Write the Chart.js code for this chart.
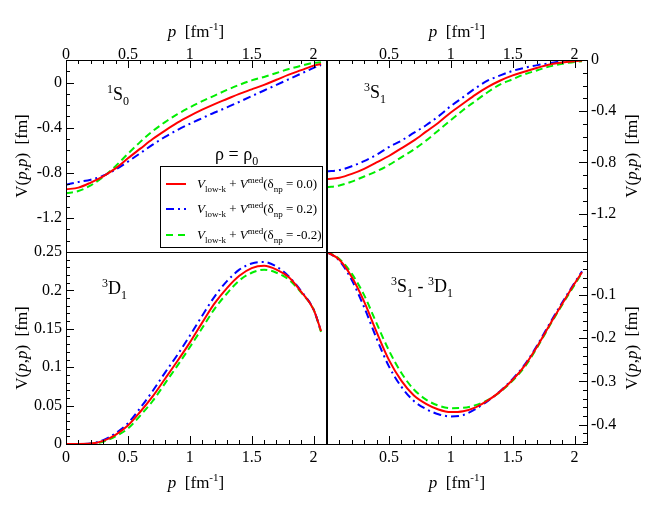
<!DOCTYPE html>
<html>
<head>
<meta charset="utf-8">
<script src="https://cdn.jsdelivr.net/npm/chart.js@4.4.1/dist/chart.umd.min.js"></script>
<style>
  html, body { margin:0; padding:0; background:#fff; }
  #wrap { position:relative; width:654px; height:505px; overflow:hidden; font-family:'Liberation Serif', 'DejaVu Serif', serif; color:#000; }
  canvas.panel { position:absolute; left:0; top:0; pointer-events:none; }
  .lbl { position:absolute; white-space:nowrap; line-height:1; }
  .ttl { font-size:17px; }
  .plab { font-size:18px; }
  .plab sup, .plab sub { font-size:12px; }
  sup, sub { line-height:0; }
  #legend { position:absolute; left:160px; top:166px; width:163px; height:82px; border:1px solid #000; background:#fff; box-sizing:border-box; }
  .lrow { position:absolute; left:0; height:20px; width:160px; }
  .lrow svg { position:absolute; left:5px; top:5px; }
  .lrow .txt { position:absolute; left:36px; top:3px; font-size:13px; line-height:1; white-space:nowrap; }
  .lrow .txt sub, .lrow .txt sup { font-size:9px; }
</style>
</head>
<body>
<div id="wrap">
  <canvas class="panel" id="cTL" width="654" height="505"></canvas>
  <canvas class="panel" id="cTR" width="654" height="505"></canvas>
  <canvas class="panel" id="cBL" width="654" height="505"></canvas>
  <canvas class="panel" id="cBR" width="654" height="505"></canvas>

  <!-- axis titles -->
  <div class="lbl ttl" style="left:196px; top:23px; transform:translateX(-50%);"><i>p</i>&nbsp; [fm<sup style="font-size:11px">-1</sup>]</div>
  <div class="lbl ttl" style="left:457px; top:23px; transform:translateX(-50%);"><i>p</i>&nbsp; [fm<sup style="font-size:11px">-1</sup>]</div>
  <div class="lbl ttl" style="left:196px; top:474px; transform:translateX(-50%);"><i>p</i>&nbsp; [fm<sup style="font-size:11px">-1</sup>]</div>
  <div class="lbl ttl" style="left:457px; top:474px; transform:translateX(-50%);"><i>p</i>&nbsp; [fm<sup style="font-size:11px">-1</sup>]</div>
  <div class="lbl ttl" style="left:21px; top:156px; transform:translate(-50%,-50%) rotate(-90deg);">V(<i>p</i>,<i>p</i>)&nbsp; [fm]</div>
  <div class="lbl ttl" style="left:21px; top:348px; transform:translate(-50%,-50%) rotate(-90deg);">V(<i>p</i>,<i>p</i>)&nbsp; [fm]</div>
  <div class="lbl ttl" style="left:631px; top:156px; transform:translate(-50%,-50%) rotate(-90deg);">V(<i>p</i>,<i>p</i>)&nbsp; [fm]</div>
  <div class="lbl ttl" style="left:631px; top:348px; transform:translate(-50%,-50%) rotate(-90deg);">V(<i>p</i>,<i>p</i>)&nbsp; [fm]</div>

  <!-- panel labels -->
  <div class="lbl plab" style="left:107px; top:85px;"><sup>1</sup>S<sub>0</sub></div>
  <div class="lbl plab" style="left:364px; top:83px;"><sup>3</sup>S<sub>1</sub></div>
  <div class="lbl plab" style="left:102px; top:279px;"><sup>3</sup>D<sub>1</sub></div>
  <div class="lbl plab" style="left:391px; top:277px;"><sup>3</sup>S<sub>1</sub> - <sup>3</sup>D<sub>1</sub></div>
  <div class="lbl" style="left:215px; top:145px; font-size:18px;">ρ = ρ<sub style="font-size:12px">0</sub></div>

  <div id="legend">
    <div class="lrow" style="top:7px;">
      <svg width="22" height="10"><line x1="0" y1="5" x2="20" y2="5" stroke="#ff0000" stroke-width="2"/></svg>
      <div class="txt"><i>V</i><sub>low-k</sub> + <i>V</i><sup>med</sup>(δ<sub>np</sub> = 0.0)</div>
    </div>
    <div class="lrow" style="top:32px;">
      <svg width="22" height="10"><line x1="0" y1="5" x2="20" y2="5" stroke="#0000ff" stroke-width="2" stroke-dasharray="8,4,2,4"/></svg>
      <div class="txt"><i>V</i><sub>low-k</sub> + <i>V</i><sup>med</sup>(δ<sub>np</sub> = 0.2)</div>
    </div>
    <div class="lrow" style="top:58px;">
      <svg width="22" height="10"><line x1="0" y1="5" x2="20" y2="5" stroke="#00ee00" stroke-width="2" stroke-dasharray="7,5"/></svg>
      <div class="txt"><i>V</i><sub>low-k</sub> + <i>V</i><sup>med</sup>(δ<sub>np</sub> = -0.2)</div>
    </div>
  </div>
</div>

<script>
// ---------- data ----------
const pGrid = [0,0.1,0.2,0.3,0.4,0.5,0.6,0.7,0.8,0.9,1.0,1.1,1.2,1.3,1.4,1.5,1.6,1.7,1.8,1.9,2.0,2.06];

// 1S0
const s1S0_d00 = [-0.945,-0.93,-0.885,-0.83,-0.76,-0.67,-0.585,-0.50,-0.425,-0.355,-0.295,-0.24,-0.19,-0.145,-0.10,-0.06,-0.02,0.025,0.07,0.11,0.15,0.165];
const s1S0_d02 = [-0.905,-0.88,-0.86,-0.825,-0.77,-0.70,-0.625,-0.55,-0.48,-0.42,-0.365,-0.315,-0.265,-0.22,-0.17,-0.12,-0.07,-0.02,0.03,0.08,0.13,0.155];
const s1S0_dm02 = [-0.98,-0.96,-0.91,-0.835,-0.74,-0.63,-0.525,-0.43,-0.35,-0.28,-0.22,-0.165,-0.115,-0.065,-0.02,0.02,0.05,0.085,0.12,0.15,0.175,0.18];

// 3S1
const s3S1_d00 = [-0.93,-0.92,-0.89,-0.85,-0.80,-0.75,-0.69,-0.63,-0.56,-0.49,-0.41,-0.34,-0.27,-0.21,-0.16,-0.12,-0.09,-0.06,-0.035,-0.02,-0.01,-0.005];
const s3S1_d02 = [-0.87,-0.86,-0.83,-0.79,-0.74,-0.68,-0.63,-0.57,-0.51,-0.44,-0.36,-0.29,-0.22,-0.16,-0.12,-0.085,-0.06,-0.04,-0.025,-0.01,0,0];
const s3S1_dm02 = [-0.995,-0.98,-0.95,-0.91,-0.87,-0.82,-0.76,-0.70,-0.63,-0.55,-0.47,-0.39,-0.32,-0.25,-0.19,-0.15,-0.11,-0.08,-0.05,-0.03,-0.015,-0.01];

// 3D1
const s3D1_d00 = [0,0,0.0005,0.004,0.012,0.024,0.042,0.062,0.085,0.108,0.132,0.158,0.183,0.203,0.219,0.229,0.232,0.227,0.217,0.198,0.175,0.147];
const s3D1_d02 = [0,0,0.0008,0.005,0.014,0.027,0.047,0.069,0.093,0.116,0.141,0.167,0.192,0.212,0.227,0.235,0.237,0.231,0.218,0.199,0.175,0.147];
const s3D1_dm02 = [0,0,0.0003,0.003,0.010,0.020,0.037,0.056,0.079,0.102,0.126,0.151,0.176,0.196,0.213,0.223,0.227,0.223,0.214,0.197,0.175,0.146];

// 3S1-3D1
const sMix_d00 = [0,-0.018,-0.058,-0.115,-0.185,-0.25,-0.298,-0.332,-0.352,-0.365,-0.371,-0.369,-0.36,-0.344,-0.323,-0.296,-0.262,-0.218,-0.168,-0.12,-0.073,-0.047];
const sMix_d02 = [0,-0.02,-0.065,-0.128,-0.20,-0.265,-0.312,-0.345,-0.364,-0.376,-0.381,-0.378,-0.364,-0.345,-0.322,-0.294,-0.26,-0.215,-0.165,-0.117,-0.071,-0.045];
const sMix_dm02 = [0,-0.016,-0.05,-0.10,-0.165,-0.228,-0.28,-0.318,-0.342,-0.356,-0.362,-0.361,-0.355,-0.343,-0.324,-0.298,-0.265,-0.22,-0.17,-0.122,-0.076,-0.048];

// tick labels
const xTicksLabeled = [0,0.5,1,1.5,2];
const xTicksRightPanels = [0.5,1,1.5,2];
const yTicks1S0 = [-1.2,-0.8,-0.4,0];
const yTicks3S1 = [-1.2,-0.8,-0.4,0];
const yTicks3D1 = [0,0.05,0.1,0.15,0.2,0.25];
const yTicksMix = [-0.4,-0.3,-0.2,-0.1];

// ---------- helpers ----------
const FONT = "'Liberation Serif', 'DejaVu Serif', serif";
function range(a, b, step){ const r=[]; const n=Math.round((b-a)/step); for(let i=0;i<=n;i++) r.push(+(a+i*step).toFixed(6)); return r; }
function pts(ys){ return ys.map((y,i)=>({x:pGrid[i], y})); }
function sets(red, blue, green){
  const base = {pointRadius:0, borderWidth:2, fill:false, cubicInterpolationMode:'monotone'};
  return [
    Object.assign({label:'δnp = 0.0', data:pts(red), borderColor:'#ff0000'}, base),
    Object.assign({label:'δnp = 0.2', data:pts(blue), borderColor:'#0000ff', borderDash:[8,4,2,4]}, base),
    Object.assign({label:'δnp = -0.2', data:pts(green), borderColor:'#00ee00', borderDash:[7,4]}, base)
  ];
}

const frameTicks = {
  id:'frameTicks',
  afterDraw(chart, args, o){
    const ctx = chart.ctx, a = chart.chartArea;
    const xs = chart.scales.x, ys = chart.scales.y;
    ctx.save();
    ctx.strokeStyle = '#000'; ctx.lineWidth = 1;
    ctx.beginPath();
    const ex = o.xEdge === 'top' ? a.top : a.bottom;
    const dirx = o.xEdge === 'top' ? 1 : -1;
    o.xMinor.forEach(v=>{
      const major = o.xMajor.some(m=>Math.abs(m-v)<1e-9);
      const px = Math.round(xs.getPixelForValue(v)) + 0.5;
      if (px < a.left - 1 || px > a.right + 1) return;
      ctx.moveTo(px, ex); ctx.lineTo(px, ex + dirx*(major?8:4));
    });
    const ey = o.yEdge === 'left' ? a.left : a.right;
    const diry = o.yEdge === 'left' ? 1 : -1;
    o.yMinor.forEach(v=>{
      const major = o.yMajor.some(m=>Math.abs(m-v)<1e-9);
      const py = Math.round(ys.getPixelForValue(v)) + 0.5;
      if (py < a.top - 1 || py > a.bottom + 1) return;
      ctx.moveTo(ey, py); ctx.lineTo(ey + diry*(major?8:4), py);
    });
    ctx.stroke();
    ctx.strokeRect(Math.round(a.left)+0.5, Math.round(a.top)+0.5, Math.round(a.right-a.left), Math.round(a.bottom-a.top));
    ctx.restore();
  }
};

function makePanel(id, cfg){
  const tickFont = {family:FONT, size:16};
  new Chart(document.getElementById(id), {
    type:'line',
    data:{ datasets: sets(cfg.red, cfg.blue, cfg.green) },
    plugins:[frameTicks],
    options:{
      responsive:false, animation:false, devicePixelRatio:1,
      layout:{ padding: cfg.padding },
      plugins:{ legend:{display:false}, tooltip:{enabled:false}, frameTicks: cfg.ticks },
      scales:{
        x:{
          type:'linear', position: cfg.xPos, min:0, max:2.1,
          grid:{display:false, drawTicks:false}, border:{display:false},
          ticks:{ font:tickFont, color:'#000', padding: cfg.xPos==='top'?-4:4, maxRotation:0, autoSkip:false,
                  callback:(v)=>String(v) },
          afterBuildTicks:(s)=>{ s.ticks = cfg.xLabels.map(v=>({value:v})); },
          afterFit:(s)=>{ s.height = cfg.xH; }
        },
        y:{
          type:'linear', position: cfg.yPos, min: cfg.yMin, max: cfg.yMax,
          grid:{display:false, drawTicks:false}, border:{display:false},
          ticks:{ font:tickFont, color:'#000', padding:4, autoSkip:false, callback:(v)=>String(v) },
          afterBuildTicks:(s)=>{ s.ticks = cfg.yLabels.map(v=>({value:v})); },
          afterFit:(s)=>{ s.width = cfg.yW; }
        }
      }
    }
  });
}

const xMinor = range(0, 2.1, 0.1);
const xMajor = [0,0.5,1,1.5,2];

makePanel('cTL', {
  red:s1S0_d00, blue:s1S0_d02, green:s1S0_dm02,
  padding:{left:0, top:0, right:328, bottom:253},
  xPos:'top', xH:60, yPos:'left', yW:66, yMin:-1.5, yMax:0.2,
  xLabels:xTicksLabeled, yLabels:yTicks1S0,
  ticks:{xEdge:'top', yEdge:'left', xMinor, xMajor, yMinor:range(-1.5,0.2,0.1), yMajor:[-1.2,-0.8,-0.4,0]}
});
makePanel('cTR', {
  red:s3S1_d00, blue:s3S1_d02, green:s3S1_dm02,
  padding:{left:327, top:0, right:0, bottom:253},
  xPos:'top', xH:60, yPos:'right', yW:67, yMin:-1.5, yMax:0,
  xLabels:xTicksRightPanels, yLabels:yTicks3S1,
  ticks:{xEdge:'top', yEdge:'right', xMinor, xMajor, yMinor:range(-1.5,0,0.1), yMajor:[-1.2,-0.8,-0.4,0]}
});
makePanel('cBL', {
  red:s3D1_d00, blue:s3D1_d02, green:s3D1_dm02,
  padding:{left:0, top:252, right:328, bottom:0},
  xPos:'bottom', xH:61, yPos:'left', yW:66, yMin:0, yMax:0.25,
  xLabels:xTicksLabeled, yLabels:yTicks3D1,
  ticks:{xEdge:'bottom', yEdge:'left', xMinor, xMajor, yMinor:range(0,0.25,0.01), yMajor:[0,0.05,0.1,0.15,0.2,0.25]}
});
makePanel('cBR', {
  red:sMix_d00, blue:sMix_d02, green:sMix_dm02,
  padding:{left:327, top:252, right:0, bottom:0},
  xPos:'bottom', xH:61, yPos:'right', yW:67, yMin:-0.445, yMax:0,
  xLabels:xTicksRightPanels, yLabels:yTicksMix,
  ticks:{xEdge:'bottom', yEdge:'right', xMinor, xMajor, yMinor:range(-0.44,0,0.02), yMajor:[-0.4,-0.3,-0.2,-0.1,0]}
});
</script>
</body>
</html>
